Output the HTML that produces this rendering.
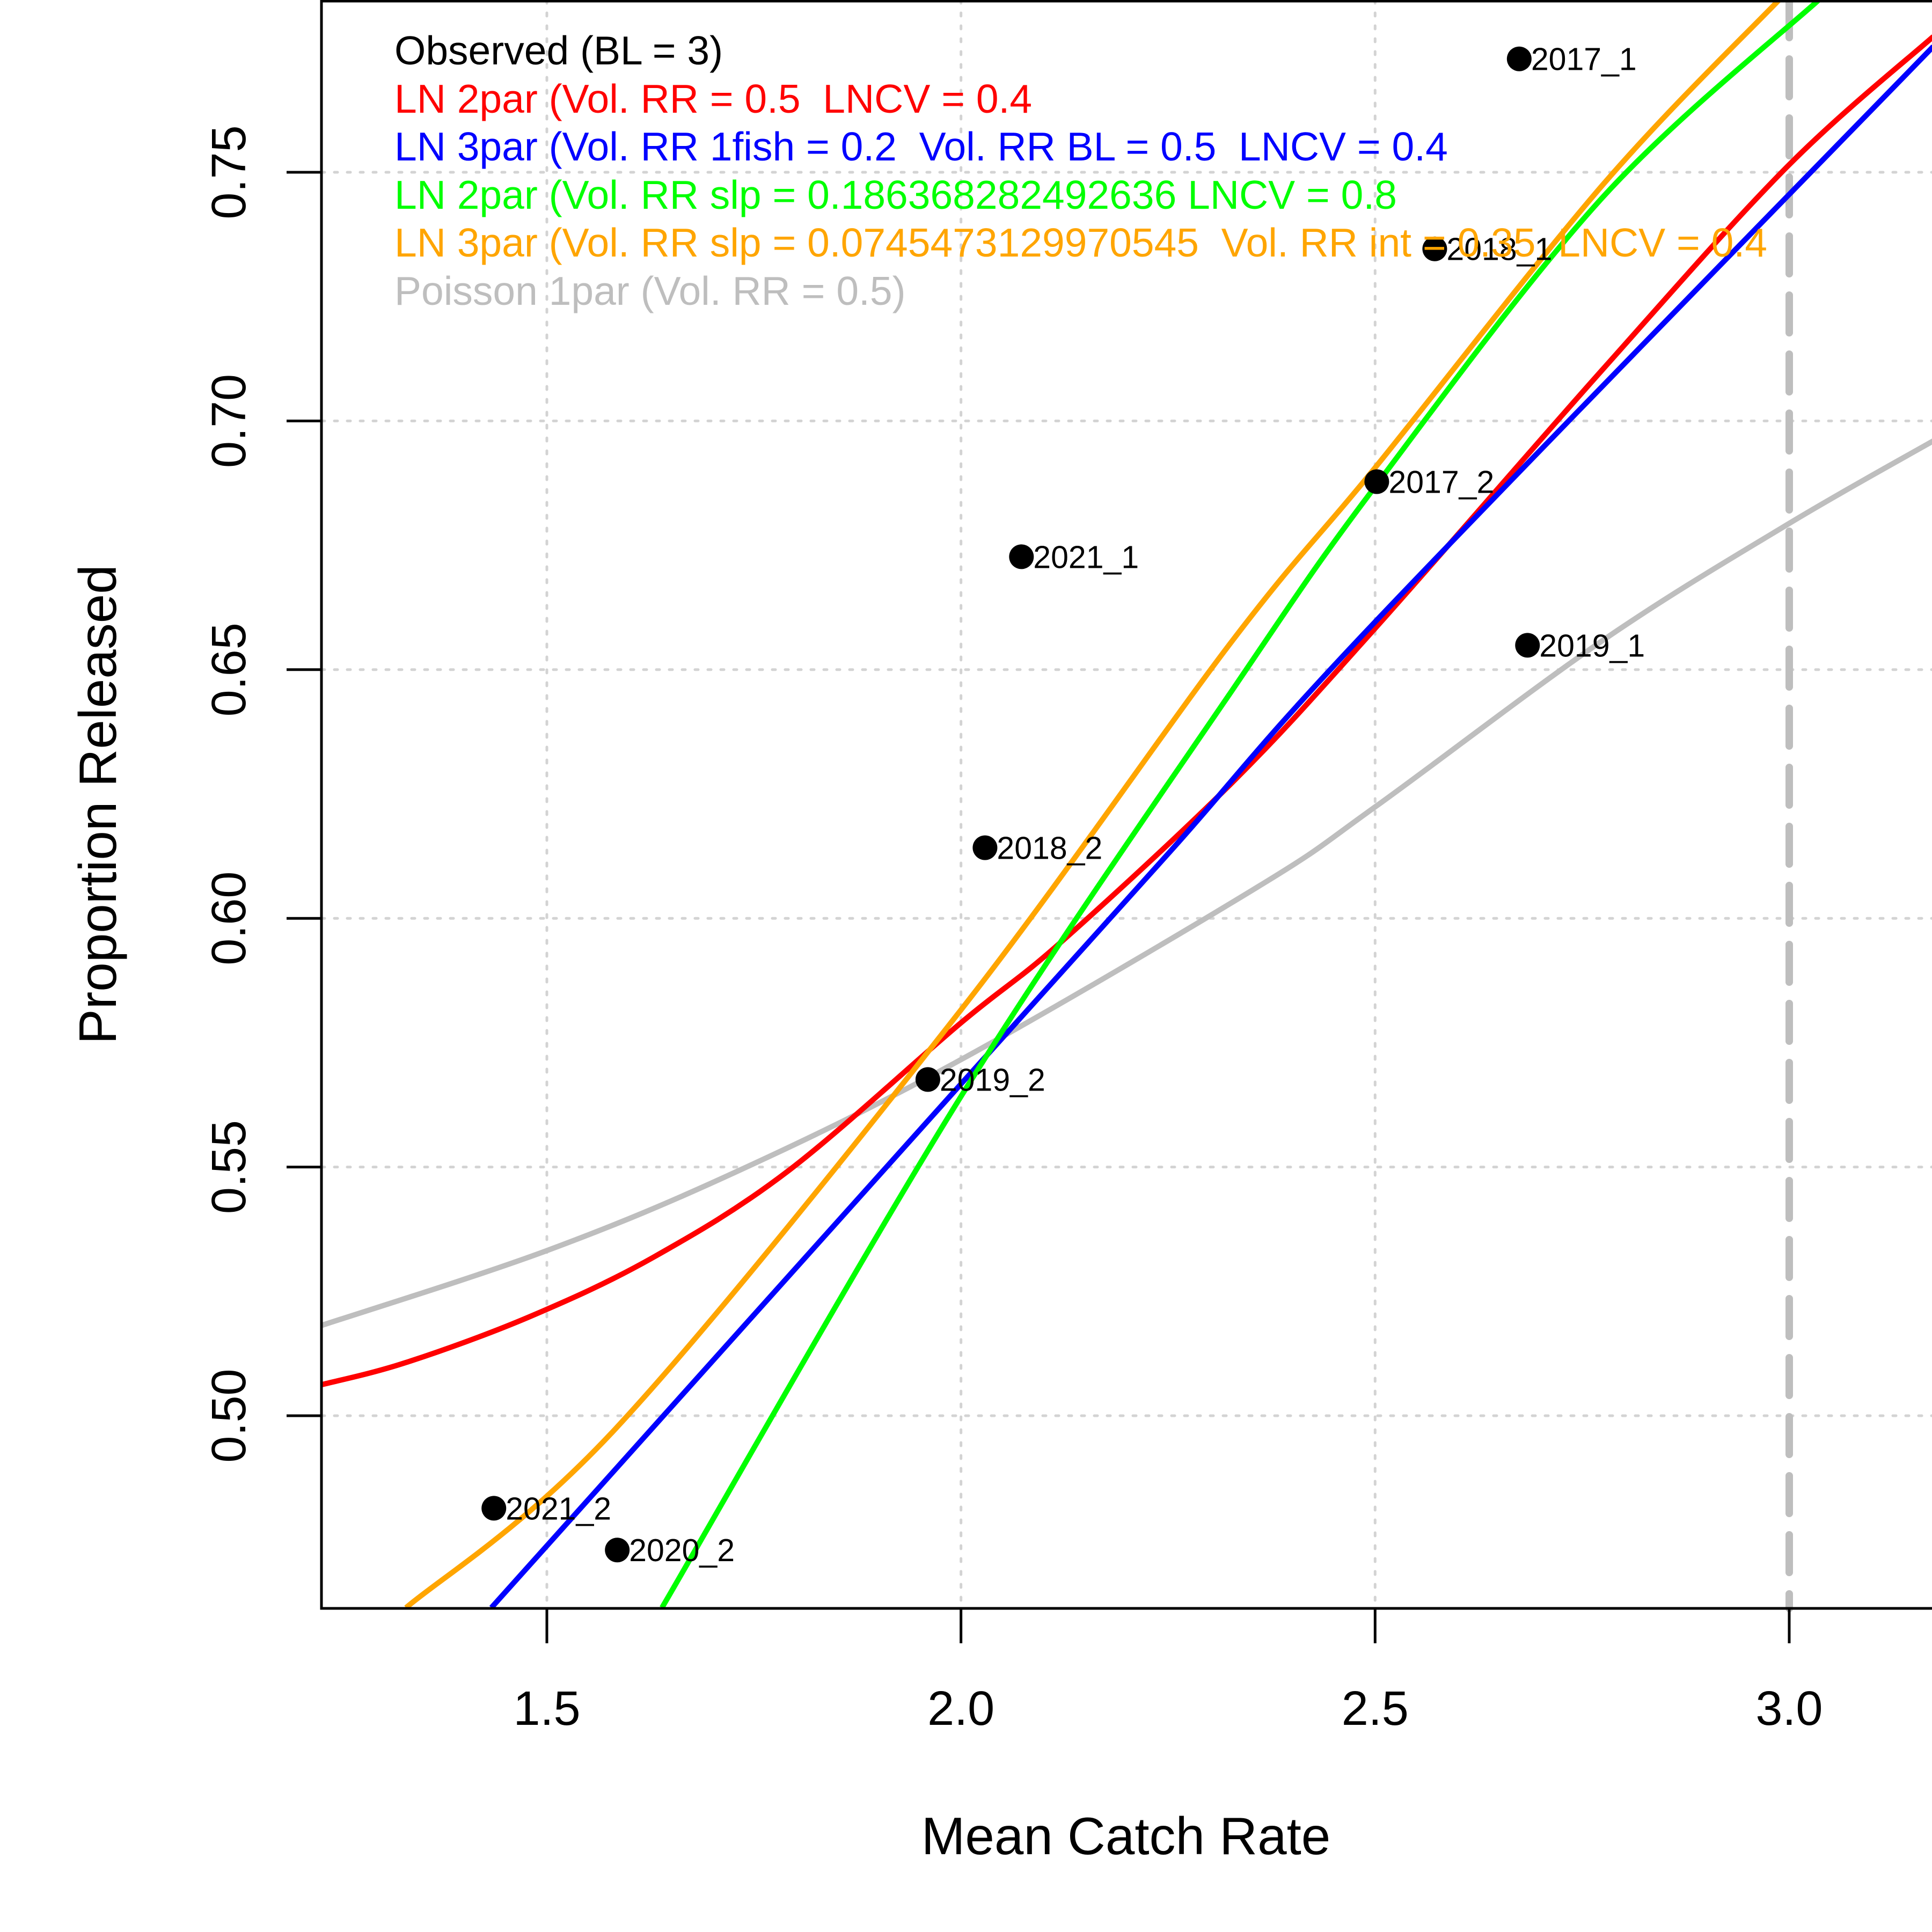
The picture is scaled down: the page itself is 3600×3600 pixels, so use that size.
<!DOCTYPE html>
<html><head><meta charset="utf-8"><style>html,body{margin:0;padding:0;background:#fff}svg{display:block;font-family:"Liberation Sans",Arial,sans-serif}text{white-space:pre}</style></head>
<body>
<svg id="chart" width="3600" height="3600" viewBox="0 0 3600 3600" xmlns="http://www.w3.org/2000/svg" xml:space="preserve">
<defs><clipPath id="plotclip"><rect x="599" y="0" width="3001" height="2997"/></clipPath></defs>
<g id="grid"></g>
<line x1="3334" y1="0" x2="3334" y2="2997" stroke="#bebebe" stroke-width="14" stroke-dasharray="70,40" stroke-linecap="round"/>
<g id="curves" clip-path="url(#plotclip)"></g>
<g id="points"></g>
<path d="M3600,2 L599,2 L599,2997 L3600,2997" fill="none" stroke="#000" stroke-width="5"/>
<g id="axes" font-size="90"></g>
<text x="2098" y="3455" font-size="98" text-anchor="middle">Mean Catch Rate</text>
<text transform="translate(216,1499) rotate(-90)" font-size="98" text-anchor="middle">Proportion Released</text>
<g font-size="75">
<text x="735" y="120" fill="#000">Observed (BL = 3)</text>
<text x="735" y="210" fill="#ff0000">LN 2par (Vol. RR = 0.5  LNCV = 0.4</text>
<text x="735" y="299" fill="#0000ff">LN 3par (Vol. RR 1fish = 0.2  Vol. RR BL = 0.5  LNCV = 0.4</text>
<text x="735" y="389" fill="#00ff00">LN 2par (Vol. RR slp = 0.186368282492636 LNCV = 0.8</text>
<text x="735" y="478" fill="#ffa500">LN 3par (Vol. RR slp = 0.0745473129970545  Vol. RR int = 0.35  LNCV = 0.4</text>
<text x="735" y="568" fill="#bebebe">Poisson 1par (Vol. RR = 0.5)</text>
</g>
</svg>
<script>
const pointLabels = ["2017_1","2018_1","2017_2","2021_1","2019_1","2018_2","2019_2","2021_2","2020_2"];
const pointX = [2.674,2.572,2.502,2.073,2.684,2.029,1.960,1.436,1.585];
const pointY = [0.7728,0.7346,0.6878,0.6727,0.6549,0.6142,0.5676,0.4814,0.4730];
const redX = [1.227,1.330,1.479,1.628,1.792,2.0,2.120,2.328,2.5,2.775,2.998,3.174];
const redY = [0.5062,0.5107,0.5199,0.5318,0.5493,0.579,0.5951,0.6274,0.6583,0.7104,0.7512,0.7773];
const blueX = [1.433,2.0,2.254,2.5,3.174];
const blueY = [0.4614,0.5667,0.6137,0.6596,0.7753];
const greenX = [1.639,2.0,2.328,2.5,2.775,3.036];
const greenY = [0.4614,0.5642,0.646,0.6868,0.745,0.7847];
const orangeX = [1.330,1.583,2.0,2.328,2.5,2.775,2.988];
const orangeY = [0.4614,0.4974,0.5816,0.6559,0.6906,0.7475,0.7847];
const grayX = [1.227,1.5,1.732,2.0,2.358,2.5,2.775,3.0,3.174];
const grayY = [0.5181,0.5332,0.5493,0.5716,0.6063,0.6224,0.6559,0.6794,0.6960];
const xTicks = [1.5,2.0,2.5,3.0];
const xTickLabels = ["1.5","2.0","2.5","3.0"];
const yTicks = [0.50,0.55,0.60,0.65,0.70,0.75];
const yTickLabels = ["0.50","0.55","0.60","0.65","0.70","0.75"];

const NS="http://www.w3.org/2000/svg";
function sx(v){return 1019+(v-1.5)*1543.3;}
function sy(v){return 2638-(v-0.5)*9268;}
function mk(tag,attrs,parent){const e=document.createElementNS(NS,tag);for(const k in attrs)e.setAttribute(k,attrs[k]);parent.appendChild(e);return e;}
const grid=document.getElementById('grid'),axes=document.getElementById('axes'),curves=document.getElementById('curves'),pts=document.getElementById('points');
xTicks.forEach((t,i)=>{
  if(t<3){const g=mk('line',{x1:sx(t),x2:sx(t),y1:0,y2:2997,stroke:'#d3d3d3','stroke-width':5,'stroke-dasharray':'6,18','stroke-linecap':'round'},grid);
  
  }
  const tk=mk('line',{x1:sx(t),x2:sx(t),y1:2997,y2:3062,stroke:'#000','stroke-width':5},axes);
  
  
  const tl=mk('text',{x:sx(t),y:3214,'text-anchor':'middle'},axes);tl.textContent=xTickLabels[i];
  
  
});
yTicks.forEach((t,i)=>{
  const g=mk('line',{x1:599,x2:3600,y1:sy(t),y2:sy(t),stroke:'#d3d3d3','stroke-width':5,'stroke-dasharray':'6,18','stroke-linecap':'round'},grid);
  
  
  const tk=mk('line',{x1:534,x2:599,y1:sy(t),y2:sy(t),stroke:'#000','stroke-width':5},axes);
  
  
  const tl=mk('text',{transform:`translate(457,${sy(t)}) rotate(-90)`,'text-anchor':'middle'},axes);tl.textContent=yTickLabels[i];
  
  
});
function drawCurve(xs,ys,color,name){
  const P=xs.map((x,i)=>[sx(x),sy(ys[i])]);
  let d='M'+P[0][0].toFixed(1)+','+P[0][1].toFixed(1);
  for(let i=0;i<P.length-1;i++){
    const p0=P[Math.max(0,i-1)],p1=P[i],p2=P[i+1],p3=P[Math.min(P.length-1,i+2)];
    const c1=[p1[0]+(p2[0]-p0[0])/6,p1[1]+(p2[1]-p0[1])/6];
    const c2=[p2[0]-(p3[0]-p1[0])/6,p2[1]-(p3[1]-p1[1])/6];
    d+=' C'+c1[0].toFixed(1)+','+c1[1].toFixed(1)+' '+c2[0].toFixed(1)+','+c2[1].toFixed(1)+' '+p2[0].toFixed(1)+','+p2[1].toFixed(1);
  }
  const p=mk('path',{d:d,fill:'none',stroke:color,'stroke-width':10,'stroke-linejoin':'round'},curves);
  
  
}
drawCurve(grayX,grayY,'#bebebe','poisson-1par-curve');
drawCurve(redX,redY,'#ff0000','ln-2par-curve');
drawCurve(blueX,blueY,'#0000ff','ln-3par-curve');
drawCurve(greenX,greenY,'#00ff00','ln-2par-slp-curve');
drawCurve(orangeX,orangeY,'#ffa500','ln-3par-slp-curve');
pointX.forEach((x,i)=>{
  const c=mk('circle',{cx:sx(x),cy:sy(pointY[i]),r:23,fill:'#000'},pts);
  
  
  const t=mk('text',{x:sx(x)+22,y:sy(pointY[i])+21,'font-size':59},pts);t.textContent=pointLabels[i];
  
  
});
</script>
</body></html>
